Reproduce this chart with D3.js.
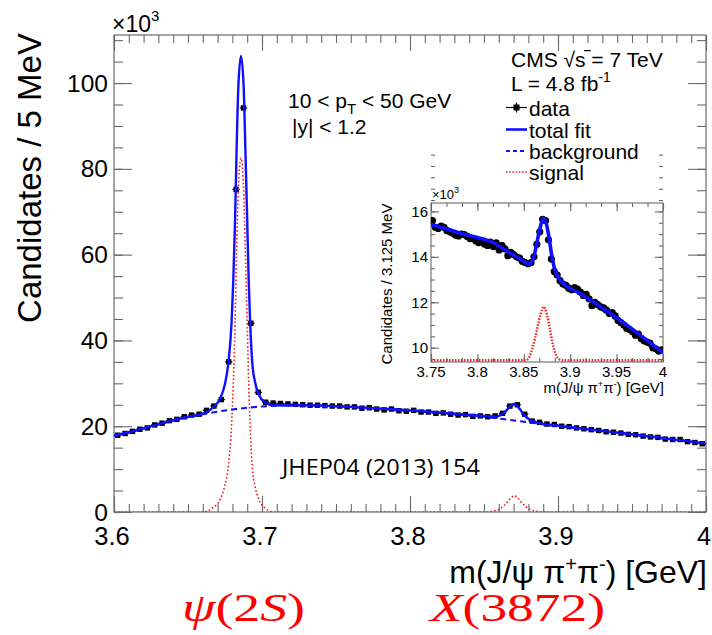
<!DOCTYPE html>
<html><head><meta charset="utf-8">
<script src="https://cdn.jsdelivr.net/npm/d3@7"></script>
<style>body{margin:0;background:#fff} svg{display:block}</style>
</head><body>
<svg id="c" width="712" height="635"></svg>
<script>
// ---------------- DATA (values ×10^3) ----------------
const massBins = d3.range(80).map(i => 3.6 + 0.005 * (i + 0.5));   // 5 MeV bins
const counts = [17.9,18.3,18.8,19.3,19.6,20.3,20.7,21.3,21.6,22.2,
  22.6,22.8,23.7,24.7,26.2,35.0,75.2,94.2,44.0,27.9,
  25.6,25.4,25.3,25.2,25.1,25.0,24.9,24.9,24.8,24.7,
  24.7,24.5,24.5,24.2,24.3,24.0,23.8,24.0,23.6,23.5,
  23.7,23.3,23.3,23.0,23.1,22.8,22.6,22.7,22.3,22.4,
  22.2,22.4,23.0,24.7,25.0,22.8,21.2,20.9,20.5,20.4,
  20.0,19.9,19.6,19.4,19.2,19.0,18.7,18.6,18.4,18.1,
  18.0,17.7,17.5,17.4,17.0,16.9,16.9,16.4,16.2,15.9];

const fitMass = [3.600,3.610,3.620,3.630,3.640,3.650,3.6598,3.6668,3.6718,3.6748,3.6773,3.6794,3.6806,3.6818,3.6828,3.6840,3.6858,3.6876,3.6888,3.6900,3.6910,3.6920,3.6933,3.6953,3.6978,3.7018,3.7078,3.720,3.740,3.760,3.780,3.800,3.820,3.840,3.850,3.856,3.860,3.863,3.866,3.868,3.8705,3.873,3.875,3.878,3.881,3.885,3.891,3.900,3.920,3.940,3.960,3.980,4.000];
const fitTotal = [17.8,18.6,19.5,20.5,21.4,22.2,22.9,24.3,26.5,29.6,34.8,43.9,54.0,68.0,84.0,99.0,106.3,99.2,84.2,68.2,54.2,44.2,35.3,30.3,27.4,25.6,24.9,24.9,24.8,24.5,24.1,23.7,23.2,22.6,22.4,22.2,22.4,23.0,24.0,24.7,25.2,24.5,23.6,22.3,21.5,20.9,20.4,20.1,19.3,18.5,17.7,16.8,16.0];

const bgMass = [3.60,3.62,3.64,3.66,3.68,3.69,3.70,3.71,3.72,3.73,3.74,3.76,3.78,3.80,3.82,3.84,3.86,3.88,3.90,3.92,3.94,3.96,3.98,4.00];
const bgVals = [17.8,19.5,21.3,22.8,23.9,24.3,24.6,24.8,24.9,24.9,24.8,24.5,24.1,23.7,23.2,22.6,21.8,20.9,20.1,19.3,18.5,17.7,16.8,16.0];

const sigMass = [3.600,3.640,3.6598,3.6668,3.6718,3.6748,3.6773,3.6794,3.6806,3.6818,3.6828,3.6840,3.6858,3.6876,3.6888,3.6900,3.6910,3.6920,3.6933,3.6953,3.6978,3.7018,3.7078,3.740,3.800,3.850,3.856,3.860,3.863,3.866,3.868,3.8705,3.873,3.875,3.878,3.881,3.885,3.891,3.950,4.000];
const sigVals = [0,0,0,1,3,6,11,20,30,44,60,75,82.5,75,60,44,30,20,11,6,3,1,0,0,0,0,0.2,0.6,1.3,2.4,3.2,3.8,3.2,2.4,1.3,0.6,0.2,0,0,0];

const yMajor = [0,20,40,60,80,100];
const xMajor = [3.6,3.7,3.8,3.9,4.0];
const xLabels = ["3.6","3.7","3.8","3.9","4"];

// inset (3.125 MeV bins)
const insetBins = d3.range(80).map(i => 3.75 + 0.003125 * (i + 0.5));
const insetCounts = [15.6,15.3,15.25,15.35,15.3,15.15,15.1,15.05,14.95,14.92,
  15.0,14.98,14.9,14.8,14.8,14.7,14.62,14.72,14.55,14.5,
  14.65,14.45,14.62,14.3,14.5,14.35,14.05,14.2,14.1,14.0,
  13.95,13.8,13.75,13.7,13.75,14.0,14.55,15.1,15.65,15.6,
  14.75,13.9,13.35,13.2,12.95,12.8,12.75,12.62,12.55,12.65,
  12.58,12.45,12.3,12.35,12.15,11.85,12.0,11.9,11.8,11.75,
  11.65,11.5,11.55,11.4,11.2,11.1,11.0,10.85,10.8,10.7,
  10.55,10.6,10.4,10.3,10.25,10.2,10.0,9.95,9.85,9.9];
const insetFitMass = [3.750,3.765,3.780,3.800,3.817,3.830,3.840,3.850,3.856,3.859,3.862,3.865,3.868,3.871,3.874,3.877,3.880,3.883,3.887,3.892,3.910,3.930,3.950,3.970,3.985,4.000];
const insetFitVals = [15.42,15.25,15.06,14.85,14.62,14.3,14.05,13.8,13.68,13.8,14.2,14.8,15.35,15.7,15.5,14.9,14.1,13.5,13.1,12.85,12.4,11.88,11.32,10.72,10.25,9.78];
const insetSigMass = [3.750,3.800,3.852,3.856,3.859,3.862,3.865,3.868,3.8715,3.875,3.878,3.881,3.884,3.888,3.892,3.950,4.000];
const insetSigVals = [9.45,9.45,9.45,9.6,9.95,10.4,10.95,11.45,11.8,11.45,10.85,10.2,9.75,9.5,9.45,9.45,9.45];
const insetYMajor = [10,12,14,16];
const insetXMajor = [3.75,3.8,3.85,3.9,3.95,4.0];
const insetXLabels = ["3.75","3.8","3.85","3.9","3.95","4"];

// ---------------- DRAW ----------------
const svg = d3.select("#c");
const SANS = "'Liberation Sans', Arial, Helvetica, sans-serif";
const FR = "#6a6a6a";
const BLUE = "#1010ff";
const RED = "#ee2020";

// Main frame
const X0 = 114, X1 = 706, Y0 = 512, Y1 = 35;
const x = d3.scaleLinear([3.6, 4.0], [X0, X1]);
const y = d3.scaleLinear([0, 111.2], [Y0, Y1]);

const defs = svg.append("defs");
defs.append("clipPath").attr("id","clipMain").append("rect")
  .attr("x",X0).attr("y",Y1).attr("width",X1-X0).attr("height",Y0-Y1);

function axisTicks(g, axisFn, scale, vals, size, tx, ty) {
  g.append("g").attr("transform",`translate(${tx},${ty})`)
    .call(axisFn(scale).tickValues(vals).tickSize(size).tickFormat(""))
    .call(s => s.select(".domain").remove())
    .call(s => s.selectAll("line").attr("stroke",FR).attr("stroke-width",1.1));
}
const mainG = svg.append("g");
const yMinor = d3.range(0, 111, 5);
const xMinor = d3.range(0, 41).map(i => 3.6 + i*0.01);
axisTicks(mainG, d3.axisLeft, y, yMinor, -9, X0, 0);
axisTicks(mainG, d3.axisLeft, y, yMajor, -18, X0, 0);
axisTicks(mainG, d3.axisRight, y, yMinor, -9, X1, 0);
axisTicks(mainG, d3.axisRight, y, yMajor, -18, X1, 0);
axisTicks(mainG, d3.axisBottom, x, xMinor, -8, 0, Y0);
axisTicks(mainG, d3.axisBottom, x, xMajor, -16, 0, Y0);
axisTicks(mainG, d3.axisTop, x, xMinor, -8, 0, Y1);
axisTicks(mainG, d3.axisTop, x, xMajor, -16, 0, Y1);
mainG.append("rect").attr("x",X0).attr("y",Y1).attr("width",X1-X0).attr("height",Y0-Y1)
  .attr("fill","none").attr("stroke",FR).attr("stroke-width",1.2);

// tick labels
mainG.selectAll(".yl").data(yMajor).join("text")
  .attr("x",108).attr("y",d=>y(d)).attr("dy","0.35em").attr("text-anchor","end")
  .attr("font-family",SANS).attr("font-size",24.5).text(d=>d);
mainG.selectAll(".xl").data(xMajor).join("text")
  .attr("x",d=>x(d)-2).attr("y",545).attr("text-anchor","middle")
  .attr("font-family",SANS).attr("font-size",25.5).text((d,i)=>xLabels[i]);

// ×10^3
const e3 = mainG.append("text").attr("x",112).attr("y",32).attr("font-family",SANS).attr("font-size",23);
e3.append("tspan").text("×10");
e3.append("tspan").attr("dy",-11).attr("font-size",15).text("3");

// axis titles
mainG.append("text").attr("transform","translate(41,178) rotate(-90)")
  .attr("text-anchor","middle").attr("font-family",SANS).attr("font-size",33)
  .text("Candidates / 5 MeV");
const xt = mainG.append("text").attr("x",707).attr("y",583).attr("text-anchor","end")
  .attr("font-family",SANS).attr("font-size",32);
xt.append("tspan").text("m(J/ψ π");
xt.append("tspan").attr("dy",-12).attr("font-size",20).text("+");
xt.append("tspan").attr("dy",12).text("π");
xt.append("tspan").attr("dy",-12).attr("font-size",20).text("-");
xt.append("tspan").attr("dy",12).text(") [GeV]");

// curves
const plot = mainG.append("g").attr("clip-path","url(#clipMain)");
const line = d3.line().curve(d3.curveMonotoneX);
// data points
const bw = x(3.605) - x(3.6);
const pts = plot.append("g");
massBins.forEach((m,i) => {
  const cx = x(m), cy = y(counts[i]);
  pts.append("line").attr("x1",cx-bw/2).attr("x2",cx+bw/2).attr("y1",cy).attr("y2",cy)
    .attr("stroke","#111").attr("stroke-width",1.2);
  pts.append("rect").attr("x",cx-2.7).attr("y",cy-2.7).attr("width",5.4).attr("height",5.4)
    .attr("fill","#000");
});
plot.append("path").attr("d", line(sigMass.map((m,i)=>[x(m), y(sigVals[i])])))
  .attr("fill","none").attr("stroke",RED).attr("stroke-width",1.6).attr("stroke-dasharray","1.6,2.2");
plot.append("path").attr("d", line(bgMass.map((m,i)=>[x(m), y(bgVals[i])])))
  .attr("fill","none").attr("stroke",BLUE).attr("stroke-width",2.1).attr("stroke-dasharray","6,4");
plot.append("path").attr("d", line(fitMass.map((m,i)=>[x(m), y(fitTotal[i])])))
  .attr("fill","none").attr("stroke",BLUE).attr("stroke-width",2.4);

// kinematic text
const t1 = mainG.append("text").attr("x",288).attr("y",108).attr("font-family",SANS).attr("font-size",21);
t1.append("tspan").text("10 < p");
t1.append("tspan").attr("dy",6).attr("font-size",15).text("T");
t1.append("tspan").attr("dy",-6).text(" < 50 GeV");
mainG.append("text").attr("x",292).attr("y",134).attr("font-family",SANS).attr("font-size",21).text("|y| < 1.2");

// legend
const lg = mainG.append("g");
const LF = 21;
const cms = lg.append("text").attr("x",511).attr("y",67).attr("font-family",SANS).attr("font-size",LF);
cms.append("tspan").text("CMS  √");
cms.append("tspan").text("s");
cms.append("tspan").text(" = 7 TeV");
const sNode = cms.node();
const iRad = "CMS  ".length;
const eR = sNode.getExtentOfChar(iRad), eS = sNode.getExtentOfChar(iRad + 1);
lg.append("line").attr("x1",eR.x + eR.width - 1.5).attr("x2",eS.x + eS.width - 0.5)
  .attr("y1",67 - 0.78*LF).attr("y2",67 - 0.78*LF).attr("stroke","#000").attr("stroke-width",1.2);
const lum = lg.append("text").attr("x",511).attr("y",91).attr("font-family",SANS).attr("font-size",LF);
lum.append("tspan").text("L = 4.8 fb");
lum.append("tspan").attr("dy",-9).attr("font-size",14).text("-1");
const legY = [107.5,129.5,151,172];
const legT = ["data","total fit","background","signal"];
legT.forEach((t,i)=>{
  lg.append("text").attr("x",529).attr("y",legY[i]+8).attr("font-family",SANS).attr("font-size",LF).text(t);
});
lg.append("line").attr("x1",506).attr("x2",527).attr("y1",legY[0]).attr("y2",legY[0]).attr("stroke","#000").attr("stroke-width",1.2);
lg.append("line").attr("x1",516.5).attr("x2",516.5).attr("y1",legY[0]-5).attr("y2",legY[0]+5).attr("stroke","#000").attr("stroke-width",1.2);
lg.append("rect").attr("x",513.5).attr("y",legY[0]-3).attr("width",6).attr("height",6).attr("fill","#000");
lg.append("line").attr("x1",506).attr("x2",527).attr("y1",legY[1]).attr("y2",legY[1]).attr("stroke",BLUE).attr("stroke-width",2.6);
lg.append("line").attr("x1",506).attr("x2",527).attr("y1",legY[2]).attr("y2",legY[2]).attr("stroke",BLUE).attr("stroke-width",1.8).attr("stroke-dasharray","4,3");
lg.append("line").attr("x1",506).attr("x2",527).attr("y1",legY[3]).attr("y2",legY[3]).attr("stroke",RED).attr("stroke-width",1.6).attr("stroke-dasharray","1.6,1.6");

// JHEP
mainG.append("text").attr("x",282).attr("y",475).attr("font-family","'Open Sans', 'Noto Sans', sans-serif")
  .attr("font-size",22).attr("textLength",198).attr("lengthAdjust","spacingAndGlyphs").text("JHEP04 (2013) 154");

// ---------------- INSET ----------------
const IX0 = 431, IX1 = 663, IY0 = 362, IY1 = 203;
const xi = d3.scaleLinear([3.75, 4.0], [IX0, IX1]);
const yi = d3.scaleLinear([9.37, 16.37], [IY0, IY1]);
defs.append("clipPath").attr("id","clipIn").append("rect")
  .attr("x",IX0).attr("y",IY1).attr("width",IX1-IX0).attr("height",IY0-IY1);
const ig = svg.append("g");
ig.append("rect").attr("x",IX0).attr("y",IY1).attr("width",IX1-IX0).attr("height",IY0-IY1).attr("fill","#fff");
const iyMinor = d3.range(19).map(i => 9.5 + i*0.5);
const ixMinor = d3.range(16).map(i => 3.75 + i*0.05/3);
axisTicks(ig, d3.axisLeft, yi, iyMinor, -4, IX0, 0);
axisTicks(ig, d3.axisLeft, yi, insetYMajor, -8, IX0, 0);
axisTicks(ig, d3.axisRight, yi, iyMinor, -4, IX1, 0);
axisTicks(ig, d3.axisRight, yi, insetYMajor, -8, IX1, 0);
axisTicks(ig, d3.axisBottom, xi, ixMinor, -4, 0, IY0);
axisTicks(ig, d3.axisBottom, xi, insetXMajor, -8, 0, IY0);
axisTicks(ig, d3.axisTop, xi, ixMinor, -4, 0, IY1);
axisTicks(ig, d3.axisTop, xi, insetXMajor, -8, 0, IY1);
ig.append("rect").attr("x",IX0).attr("y",IY1).attr("width",IX1-IX0).attr("height",IY0-IY1)
  .attr("fill","none").attr("stroke",FR).attr("stroke-width",1.1);
ig.selectAll(".iyl").data(insetYMajor).join("text")
  .attr("x",428).attr("y",d=>yi(d)).attr("dy","0.36em").attr("text-anchor","end")
  .attr("font-family",SANS).attr("font-size",15).text(d=>d);
ig.selectAll(".ixl").data(insetXMajor).join("text")
  .attr("x",d=>xi(d)).attr("y",377).attr("text-anchor","middle")
  .attr("font-family",SANS).attr("font-size",15).text((d,i)=>insetXLabels[i]);
const ie3 = ig.append("text").attr("x",432).attr("y",199).attr("font-family",SANS).attr("font-size",13);
ie3.append("tspan").text("×10");
ie3.append("tspan").attr("dy",-6).attr("font-size",9).text("3");
ig.append("text").attr("transform","translate(392,284) rotate(-90)")
  .attr("text-anchor","middle").attr("font-family",SANS).attr("font-size",15)
  .text("Candidates / 3.125 MeV");
const ixt = ig.append("text").attr("x",664).attr("y",393).attr("text-anchor","end")
  .attr("font-family",SANS).attr("font-size",15);
ixt.append("tspan").text("m(J/ψ π");
ixt.append("tspan").attr("dy",-6).attr("font-size",9).text("+");
ixt.append("tspan").attr("dy",6).text("π");
ixt.append("tspan").attr("dy",-6).attr("font-size",9).text("-");
ixt.append("tspan").attr("dy",6).text(") [GeV]");

const ip = ig.append("g").attr("clip-path","url(#clipIn)");
ip.append("path").attr("d", line(insetSigMass.map((m,i)=>[xi(m), yi(insetSigVals[i])])))
  .attr("fill","none").attr("stroke",RED).attr("stroke-width",2.4).attr("stroke-dasharray","1.5,1.5");
ip.selectAll("circle").data(insetBins).join("circle")
  .attr("cx",d=>xi(d)).attr("cy",(d,i)=>yi(insetCounts[i])).attr("r",3.6).attr("fill","#000");
ip.append("path").attr("d", line(insetFitMass.map((m,i)=>[xi(m), yi(insetFitVals[i])])))
  .attr("fill","none").attr("stroke",BLUE).attr("stroke-width",3.6);

// ---------------- particle labels ----------------
const pl = svg.append("g").attr("fill","#ff0000").attr("font-family","'Liberation Serif', 'DejaVu Serif', serif").attr("font-size",40);
const p1 = pl.append("text").attr("x",182).attr("y",621).attr("textLength",123).attr("lengthAdjust","spacingAndGlyphs");
p1.append("tspan").attr("font-style","italic").text("ψ");
p1.append("tspan").text("(2");
p1.append("tspan").attr("font-style","italic").text("S");
p1.append("tspan").text(")");
const p2 = pl.append("text").attr("x",430).attr("y",621).attr("textLength",175).attr("lengthAdjust","spacingAndGlyphs");
p2.append("tspan").attr("font-style","italic").text("X");
p2.append("tspan").text("(3872)");
</script>
</body></html>
